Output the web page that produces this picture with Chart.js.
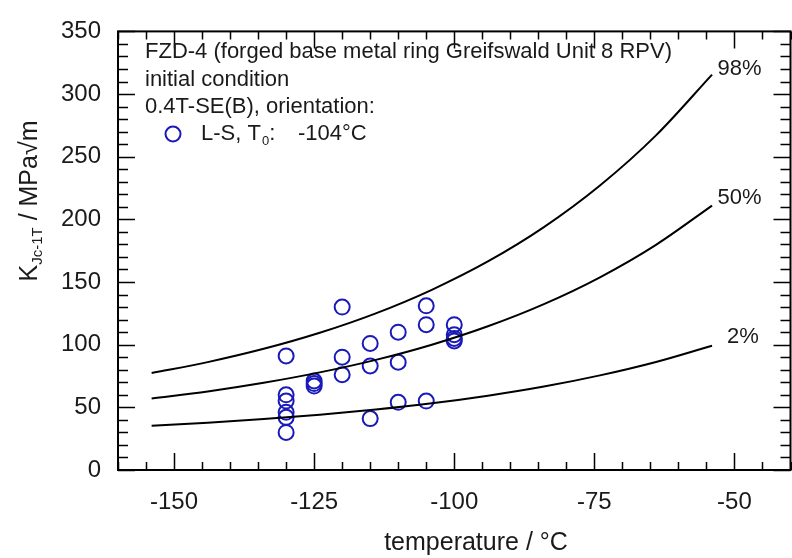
<!DOCTYPE html>
<html>
<head>
<meta charset="utf-8">
<script src="https://cdn.jsdelivr.net/npm/chart.js@4.4.1/dist/chart.umd.min.js"></script>
<style>
    html, body { margin: 0; padding: 0; background: #fff; overflow: hidden; }
    #wrap { position: relative; width: 800px; height: 558px; }
</style>
</head>
<body>
<div id="wrap"><canvas id="masterCurve"></canvas></div>
<script>
// master curve bands
var curveTemp = [-154, -144, -134, -124, -114, -104, -94, -84, -74, -64, -54];
var curve98 = [77.4, 86.1, 96.7, 109.5, 125.0, 143.8, 166.4, 193.8, 227.0, 267.0, 315.5];
var curve50 = [57.1, 62.7, 69.6, 77.9, 87.9, 100.0, 114.7, 132.4, 153.8, 179.7, 211.0];
var curve2 = [35.4, 37.7, 40.6, 44.0, 48.2, 53.2, 59.3, 66.6, 75.5, 86.2, 99.2];

// L-S specimens, 0.4T-SE(B)
var specTemp = [-130, -130, -130, -130, -130, -130, -125, -125, -125, -120, -120, -120,
                -115, -115, -115, -110, -110, -110, -105, -105, -105, -100, -100, -100, -100];
var specK = [91, 60, 55, 46, 42, 30, 71, 69, 67, 130, 90, 76,
             101, 83, 41, 110, 86, 54, 131, 116, 55, 116, 108, 105, 103];

var xTicks = [-150, -125, -100, -75, -50];
var yTicks = [0, 50, 100, 150, 200, 250, 300, 350];
var curveNames = ["98%", "50%", "2%"];

var FONT = '"Liberation Sans", Arial, Helvetica, sans-serif';
var BLUE = '#1a1ab8';
var TXT = '#1a1a1a';

function pairs(xs, ys) {
    return xs.map(function (t, i) { return { x: t, y: ys[i] }; });
}

function curveSet(name, ys) {
    return {
        label: name,
        data: pairs(curveTemp, ys),
        showLine: true,
        borderColor: '#000',
        borderWidth: 2,
        pointRadius: 0,
        fill: false,
        cubicInterpolationMode: 'monotone'
    };
}

var decor = {
    id: 'decor',
    afterDraw: function (chart) {
        var ctx = chart.ctx, a = chart.chartArea;
        var x = chart.scales.x, y = chart.scales.y;
        ctx.save();

        // frame + inward ticks on all sides
        ctx.strokeStyle = '#000';
        ctx.lineWidth = 2;
        ctx.strokeRect(a.left, a.top, a.right - a.left, a.bottom - a.top);
        ctx.lineWidth = 1.5;
        ctx.beginPath();
        for (var v = -160; v <= -40; v += 5) {
            var px = Math.round(x.getPixelForValue(v)) + 0.5;
            var len = (v % 25 === 0) ? 17 : 8;
            ctx.moveTo(px, a.bottom); ctx.lineTo(px, a.bottom - len);
            ctx.moveTo(px, a.top); ctx.lineTo(px, a.top + len);
        }
        for (var k = 0; k <= 350; k += 10) {
            var py = Math.round(y.getPixelForValue(k)) + 0.5;
            var ln = (k % 50 === 0) ? 17 : 10;
            ctx.moveTo(a.left, py); ctx.lineTo(a.left + ln, py);
            ctx.moveTo(a.right, py); ctx.lineTo(a.right - ln, py);
        }
        ctx.stroke();

        ctx.fillStyle = TXT;
        ctx.textBaseline = 'middle';

        // annotation block
        ctx.textAlign = 'left';
        ctx.font = '22px ' + FONT;
        ctx.fillText('FZD-4 (forged base metal ring Greifswald Unit 8 RPV)', 145, 52);
        ctx.fillText('initial condition', 145, 80);
        ctx.fillText('0.4T-SE(B), orientation:', 145, 107);

        ctx.strokeStyle = BLUE;
        ctx.lineWidth = 2;
        ctx.beginPath();
        ctx.arc(173, 134, 7.5, 0, Math.PI * 2);
        ctx.stroke();

        var tx = 201;
        ctx.fillText('L-S, T', tx, 134);
        tx += ctx.measureText('L-S, T').width + 1;
        ctx.font = '13px ' + FONT;
        ctx.fillText('0', tx, 141);
        tx += ctx.measureText('0').width;
        ctx.font = '22px ' + FONT;
        ctx.fillText(':', tx, 134);
        ctx.fillText('-104°C', 298, 134);

        // percentile labels
        ctx.textAlign = 'center';
        ctx.fillText(curveNames[0], x.getPixelForValue(-49.1), y.getPixelForValue(320));
        ctx.fillText(curveNames[1], x.getPixelForValue(-49.1), y.getPixelForValue(217));
        ctx.fillText(curveNames[2], x.getPixelForValue(-48.5), y.getPixelForValue(106));

        // x title
        ctx.font = '25px ' + FONT;
        ctx.fillText('temperature / °C', 476, 543);

        // y title, rotated, with subscript
        ctx.translate(28, 201);
        ctx.rotate(-Math.PI / 2);
        ctx.textAlign = 'left';
        ctx.textBaseline = 'alphabetic';
        ctx.font = '25px ' + FONT;
        var wK = ctx.measureText('K').width;
        var wRest = ctx.measureText(' / MPa\u221Am').width;
        ctx.font = '15px ' + FONT;
        var wSub = ctx.measureText('Jc-1T').width;
        var sx = -(wK + wSub + wRest) / 2;
        ctx.font = '25px ' + FONT;
        ctx.fillText('K', sx, 9);
        ctx.font = '15px ' + FONT;
        ctx.fillText('Jc-1T', sx + wK, 14);
        ctx.font = '25px ' + FONT;
        ctx.fillText(' / MPa\u221Am', sx + wK + wSub, 9);

        ctx.restore();
    }
};

new Chart(document.getElementById('masterCurve').getContext('2d'), {
    type: 'scatter',
    data: {
        datasets: [
            curveSet(curveNames[0], curve98),
            curveSet(curveNames[1], curve50),
            curveSet(curveNames[2], curve2),
            {
                label: 'L-S',
                data: pairs(specTemp, specK),
                pointStyle: 'circle',
                pointRadius: 7.5,
                pointBorderWidth: 2,
                pointBorderColor: BLUE,
                pointBackgroundColor: 'rgba(0,0,0,0)',
                showLine: false
            }
        ]
    },
    options: {
        responsive: true,
        maintainAspectRatio: false,
        animation: false,
        layout: { padding: { top: 16, right: 4, left: 0, bottom: 0 } },
        plugins: {
            legend: { display: false },
            tooltip: { enabled: false }
        },
        scales: {
            x: {
                type: 'linear',
                min: -160,
                max: -40,
                grid: { display: false, drawTicks: false },
                border: { display: false },
                afterBuildTicks: function (s) {
                    s.ticks = xTicks.map(function (v) { return { value: v }; });
                },
                afterFit: function (s) { s.height = 88; },
                ticks: {
                    padding: 18,
                    color: TXT,
                    font: { family: FONT, size: 24 },
                    callback: function (v) { return String(v); }
                }
            },
            y: {
                min: 0,
                max: 350,
                grid: { display: false, drawTicks: false },
                border: { display: false },
                afterBuildTicks: function (s) {
                    s.ticks = yTicks.map(function (v) { return { value: v }; });
                },
                afterFit: function (s) { s.width = 118; },
                ticks: {
                    padding: 17,
                    color: TXT,
                    font: { family: FONT, size: 24 },
                    callback: function (v) { return String(v); }
                }
            }
        }
    },
    plugins: [decor]
});
</script>
</body>
</html>
